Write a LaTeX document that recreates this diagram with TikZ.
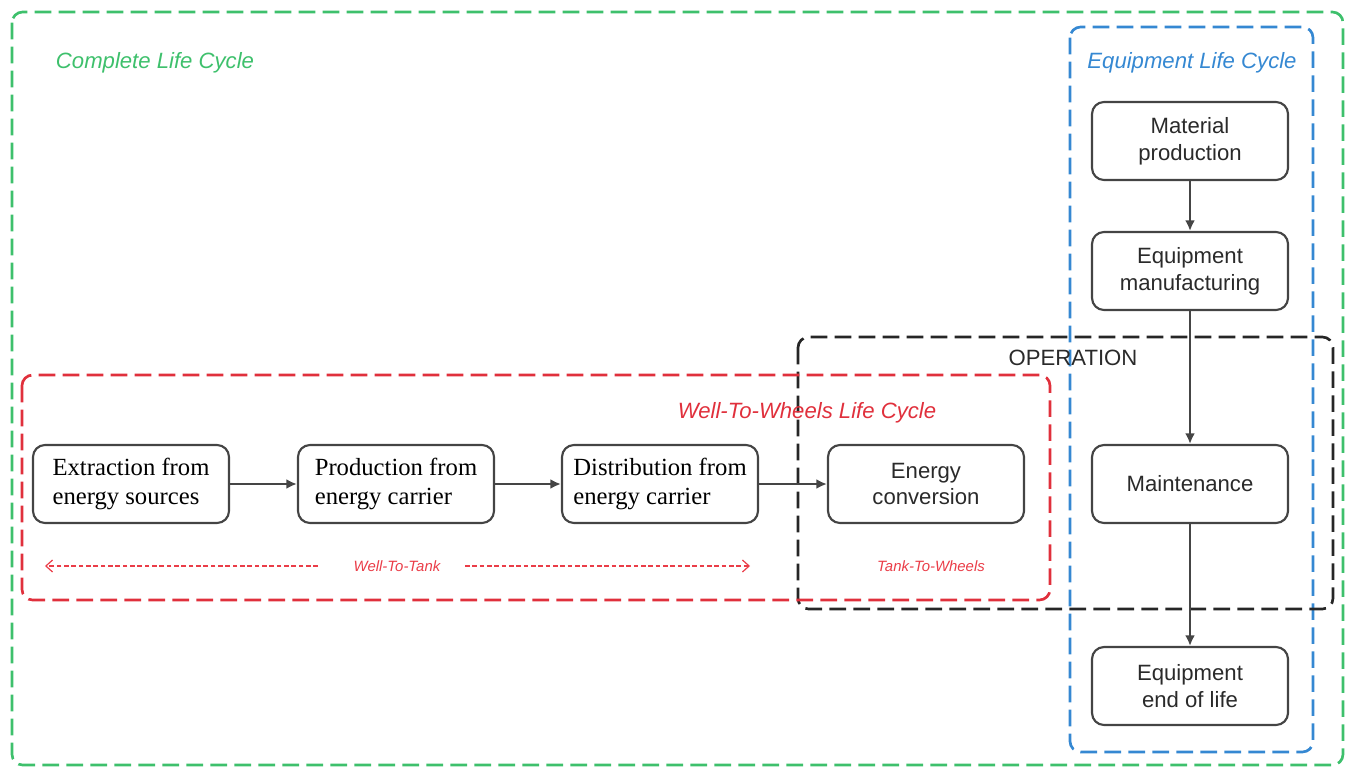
\documentclass[tikz,border=0pt]{standalone}
\usepackage{fontspec}
\setsansfont{Liberation Sans}
\newfontfamily\boxserif{Liberation Serif}
\usetikzlibrary{arrows.meta}
\definecolor{cgreen}{HTML}{3EC06C}
\definecolor{cblue}{HTML}{3588D2}
\definecolor{cred}{HTML}{E0303C}
\definecolor{clabred}{HTML}{EA3D48}
\definecolor{cborder}{HTML}{444444}
\definecolor{carrow}{HTML}{454545}
\definecolor{ctext}{HTML}{2A2A2A}
\tikzset{
  frame/.style={line width=2pt, dash pattern=on 12.5pt off 5.5pt, rounded corners=8pt},
  sbox/.style={draw=cborder, line width=1.6pt, rounded corners=9pt, fill=white,
    minimum width=147pt, minimum height=58.5pt, inner sep=0pt, align=center,
    text=ctext, font=\sffamily\fontsize{16.6}{20}\selectfont},
  rbox/.style={sbox, align=left, font=\boxserif\fontsize{18.5}{21.5}\selectfont, text=black},
  flow/.style={draw=carrow, line width=2.1pt, -{Latex[length=8pt,width=7.5pt]}},
  biglabel/.style={font=\sffamily\itshape\fontsize{16.6}{20}\selectfont, inner sep=0pt},
  smalllabel/.style={font=\sffamily\itshape\fontsize{11.2}{13}\selectfont, text=clabred, inner sep=0pt},
  wtt/.style={draw=clabred, line width=0.9pt, dash pattern=on 3.5pt off 2pt, -{Straight Barb[length=5pt,width=9pt]}}
}
\begin{document}
\begin{tikzpicture}[x=0.75pt,y=-0.75pt]
\useasboundingbox (0,0) rectangle (1345,767);
% frames
\draw[frame, cgreen] (12,12) rectangle (1343,765);
\draw[frame, cblue] (1070,27) rectangle (1313,752);
\draw[frame, black!85] (798,337) rectangle (1333,609);
\draw[frame, cred] (22,375) rectangle (1050,600);
% frame labels
\node[biglabel, text=cgreen] (lcomplete) at (155,63) {Complete Life Cycle};
\node[biglabel, text=cblue] (lequip) at (1192,63) {Equipment Life Cycle};
\node[font=\sffamily\fontsize{16.6}{20}\selectfont, text=ctext, inner sep=0pt] (lop) at (1073,358) {OPERATION};
\node[biglabel, text=cred] (lwtw) at (807,413) {Well-To-Wheels Life Cycle};
\node[smalllabel] (lwtt) at (397,566) {Well-To-Tank};
\node[smalllabel] (lttw) at (931,566) {Tank-To-Wheels};
% well-to-tank arrows
\coordinate (wttLs) at (318,566);
\coordinate (wttLe) at (45,566);
\coordinate (wttRs) at (465,566);
\coordinate (wttRe) at (750,566);
\draw[wtt] (wttLs) -- (wttLe);
\draw[wtt] (wttRs) -- (wttRe);
% nodes
\node[rbox] (ext) at (131,484) {Extraction from\\energy sources};
\node[rbox] (prod) at (396,484) {Production from\\energy carrier};
\node[rbox] (dist) at (660,484) {Distribution from\\energy carrier};
\node[sbox] (conv) at (926,484) {Energy\\conversion};
\node[sbox] (mat) at (1190,141) {Material\\production};
\node[sbox] (manu) at (1190,271) {Equipment\\manufacturing};
\node[sbox] (maint) at (1190,484) {Maintenance};
\node[sbox] (eol) at (1190,686) {Equipment\\end of life};
% connectors
\draw[flow] (ext) -- (prod);
\draw[flow] (prod) -- (dist);
\draw[flow] (dist) -- (conv);
\draw[flow] (mat) -- (manu);
\draw[flow] (manu) -- (maint);
\draw[flow] (maint) -- (eol);
\end{tikzpicture}
\end{document}
